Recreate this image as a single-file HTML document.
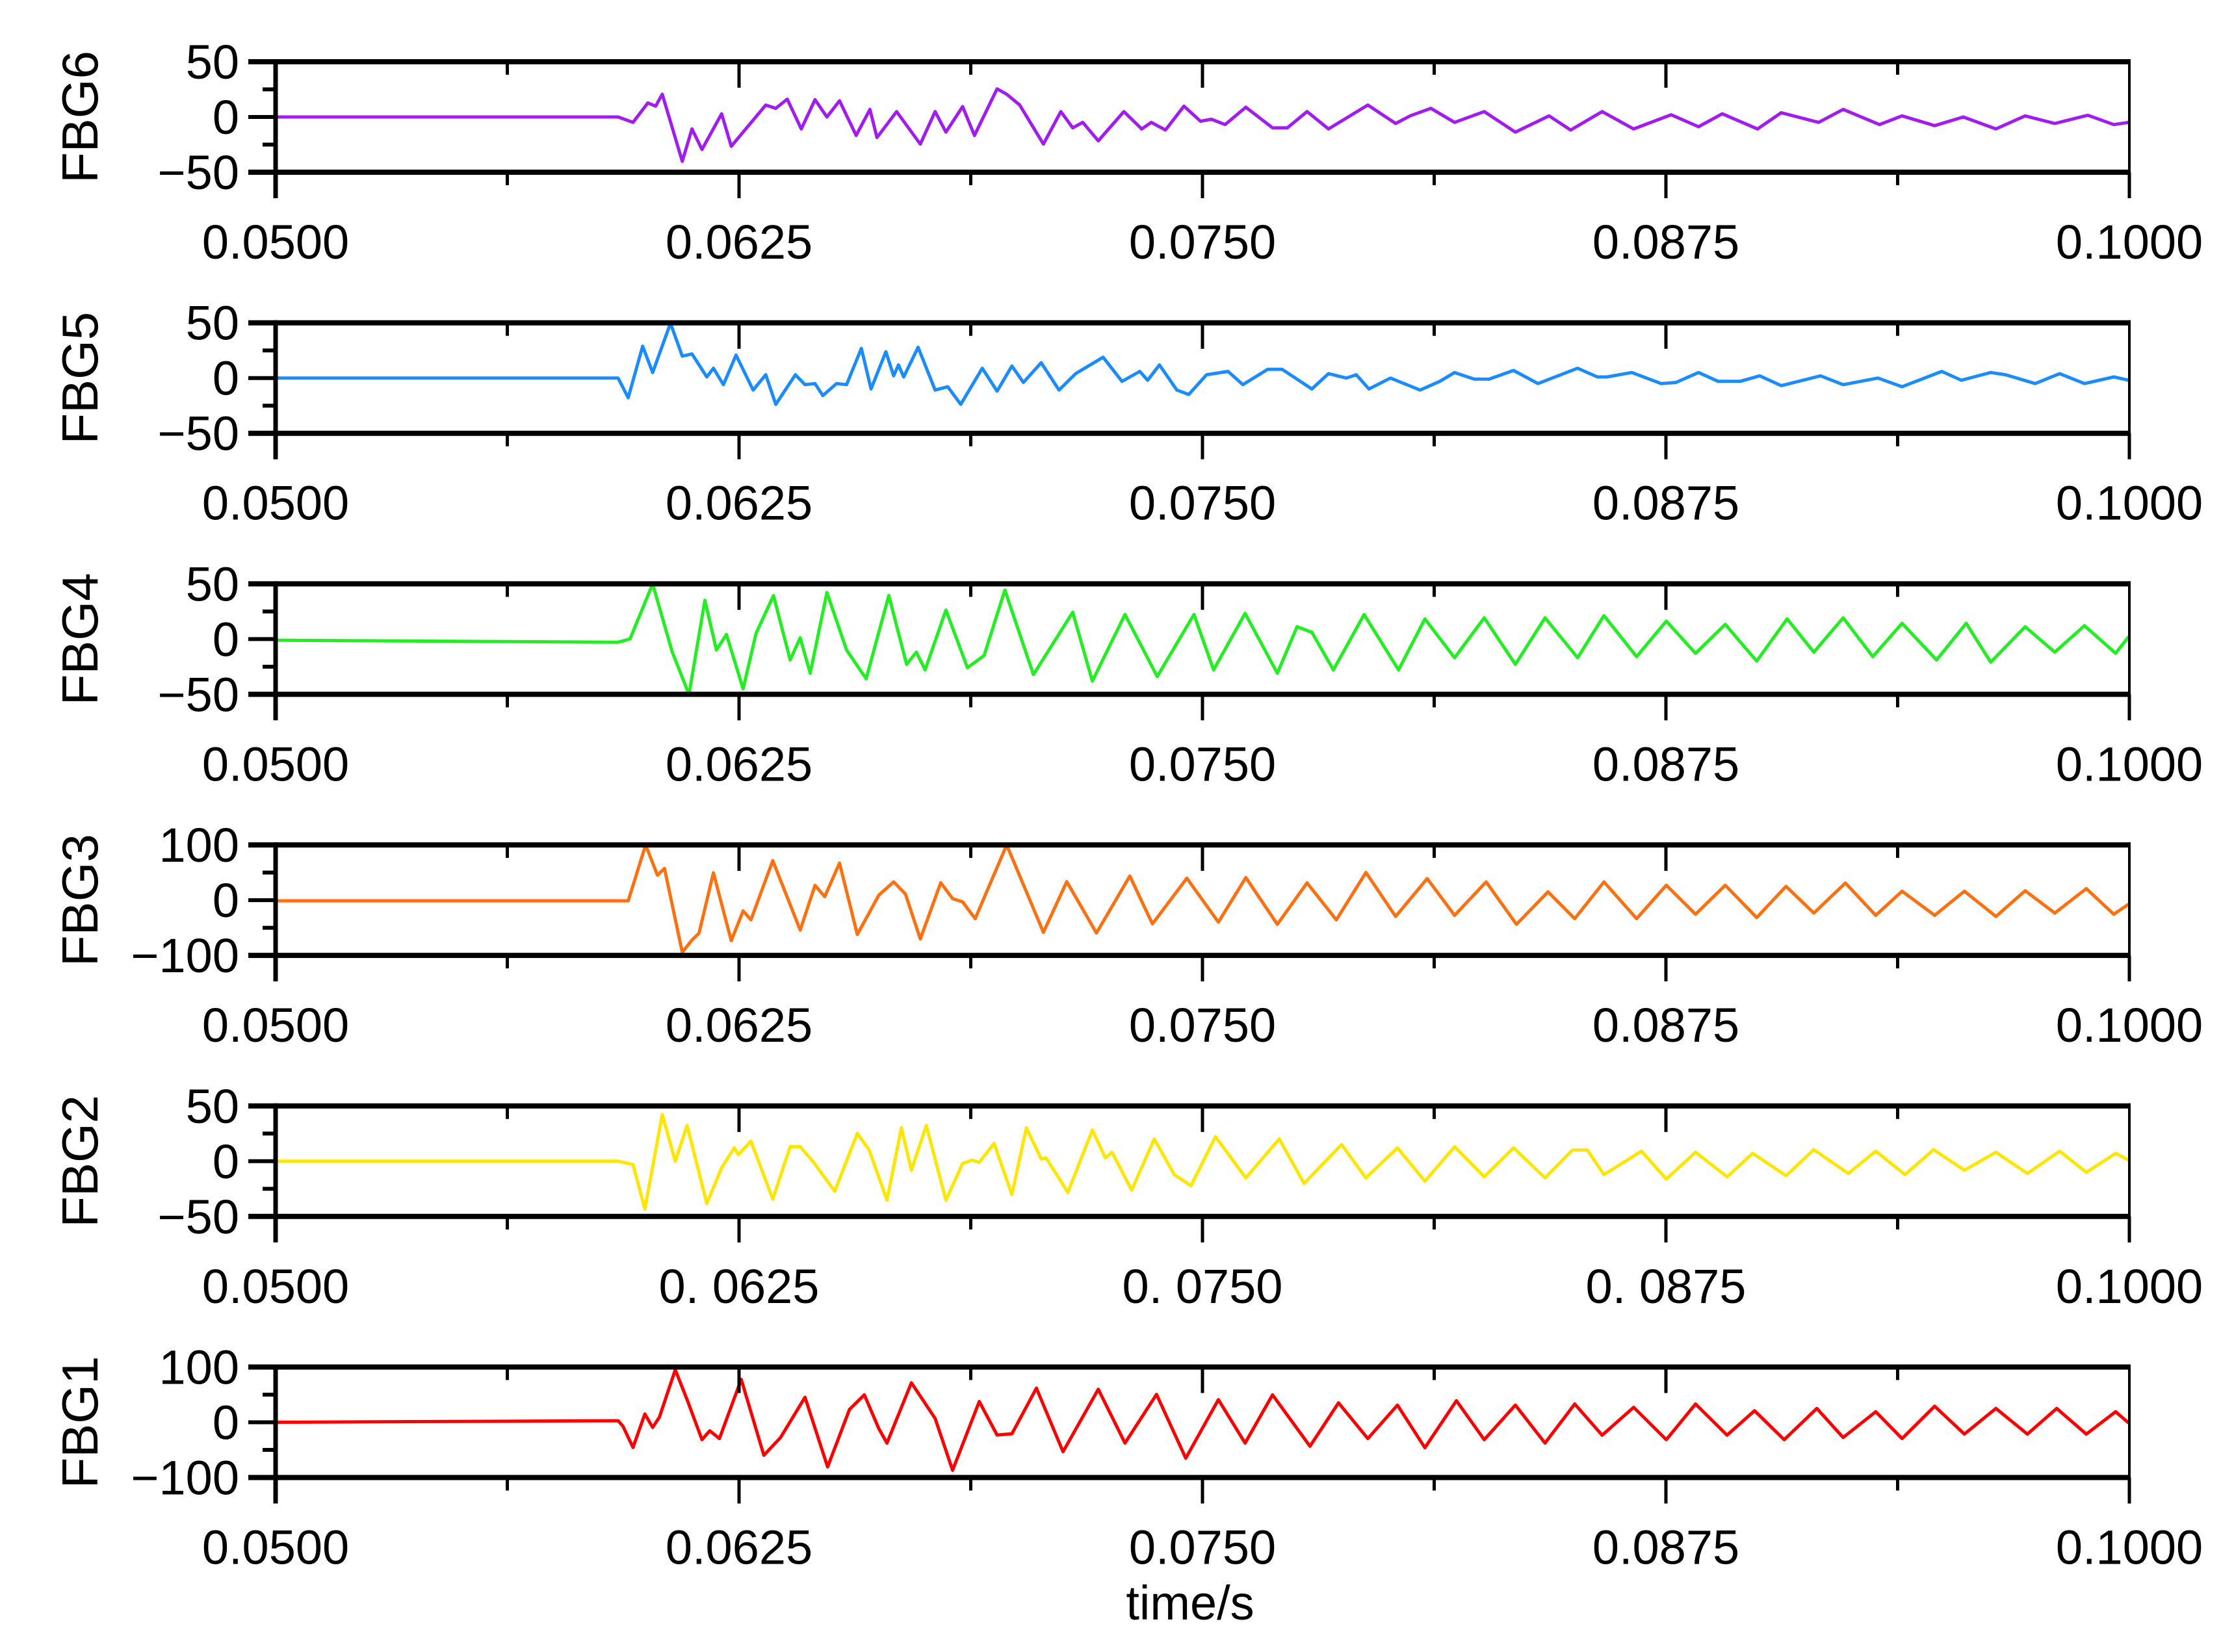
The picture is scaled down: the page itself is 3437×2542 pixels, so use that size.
<!DOCTYPE html>
<html><head><meta charset="utf-8"><title>FBG signals</title>
<style>html,body{margin:0;padding:0;background:#fff}svg{display:block}text{font-family:"Liberation Sans",Arial,sans-serif;fill:#000}</style>
</head><body>
<svg id="chart" width="3437" height="2542" viewBox="0 0 3437 2542" xmlns="http://www.w3.org/2000/svg"></svg>
<script>
const xTickLabels=["0.0500","0.0625","0.0750","0.0875","0.1000"];
const xTickLabelsP2=["0.0500","0. 0625","0. 0750","0. 0875","0.1000"];
const panelNames=["FBG6","FBG5","FBG4","FBG3","FBG2","FBG1"];
const panelRanges=[50,50,50,100,50,100];
const panelColors=["#a21cf2","#1a8cff","#22ee22","#ff7010","#ffe600","#ff0000"];
const fbg6T=[50,59.24,59.64,60.04,60.25,60.43,60.97,61.23,61.50,62.03,62.29,62.56,63.22,63.49,63.80,64.18,64.55,64.87,65.21,65.66,66.03,66.22,66.75,67.39,67.79,68.08,68.53,68.85,69.46,69.72,70.07,70.71,71.18,71.50,71.77,72.19,72.88,73.36,73.62,74.00,74.50,74.95,75.24,75.61,76.17,76.89,77.29,77.82,78.40,79.46,80.21,80.60,81.16,81.80,82.60,83.44,84.35,84.93,85.78,86.63,87.64,88.38,89.02,89.97,90.61,91.62,92.28,93.26,93.87,94.75,95.52,96.40,97.19,97.99,98.88,99.58,99.98];
const fbg6V=[0,0,-4.9,12.7,9.8,20.6,-40.2,-10.8,-29.4,2.9,-26.5,-15.7,10.8,7.8,16.1,-10.8,15.7,0,14.7,-16.7,6.9,-18.6,4.9,-24.5,4.9,-13.7,9.4,-16.7,25.5,20.6,10.8,-24.5,4.9,-9.8,-4.9,-21.6,4.9,-10.8,-4.9,-11.8,9.8,-3.9,-2.0,-6.9,8.8,-9.8,-9.8,4.9,-10.8,10.8,-5.9,1.0,7.8,-4.9,4.9,-13.7,1.0,-11.8,4.9,-10.8,2.0,-8.8,2.9,-10.8,3.9,-4.9,6.9,-6.9,1.0,-7.8,0,-10.8,1.0,-5.9,1.6,-6.9,-4.9];
const fbg5T=[50,59.24,59.51,59.90,60.17,60.65,60.97,61.23,61.63,61.81,62.08,62.42,62.88,63.22,63.49,64.02,64.28,64.55,64.76,65.13,65.40,65.80,66.06,66.46,66.67,66.80,66.94,67.33,67.79,68.13,68.48,69.06,69.46,69.86,70.17,70.65,71.13,71.58,72.32,72.83,73.31,73.52,73.84,74.31,74.63,75.11,75.69,76.09,76.76,77.15,77.95,78.40,78.88,79.15,79.49,80.07,80.87,81.40,81.80,82.33,82.73,83.39,84.05,85.12,85.65,85.91,86.58,87.37,87.77,88.38,88.91,89.50,90.03,90.61,91.67,92.28,93.22,93.87,94.94,95.47,96.26,96.66,97.46,98.12,98.79,99.58,99.98];
const fbg5V=[0,0,-17.9,28.8,5.0,49.6,19.8,21.8,1.0,8.9,-6.0,20.8,-10.9,3.0,-23.8,3.0,-6.0,-5.0,-15.9,-5.0,-6.0,26.8,-9.9,23.8,2.0,11.9,1.0,27.8,-10.9,-7.9,-23.8,8.9,-11.9,10.9,-4.0,13.9,-10.9,4.0,18.8,-3.0,6.0,-2.0,11.9,-10.9,-14.9,3.0,6.0,-6.0,7.9,7.9,-9.9,4.0,0,3.0,-9.9,0,-10.9,-3.0,5.0,-1.0,-1.0,6.9,-5.0,8.9,1.0,1.0,5.0,-5.0,-4.0,5.0,-3.0,-3.0,2.0,-6.9,2.0,-6.0,0,-7.9,6.0,-2.0,5.0,3.0,-5.0,4.0,-5.0,1.0,-2.0];
const fbg4T=[50,59.24,59.56,60.17,60.70,61.15,61.58,61.89,62.16,62.61,62.96,63.43,63.88,64.15,64.42,64.87,65.40,65.93,66.54,67.02,67.28,67.52,68.08,68.66,69.11,69.67,70.44,71.50,72.03,72.91,73.78,74.77,75.30,76.15,77.02,77.55,77.95,78.53,79.36,80.29,81.00,81.80,82.60,83.44,84.24,85.12,85.83,86.71,87.51,88.30,89.10,89.95,90.77,91.49,92.28,93.08,93.87,94.80,95.60,96.26,97.19,97.99,98.79,99.63,99.98];
const fbg4V=[-1,-2.8,0.2,50,-11.8,-50,35.1,-9.8,4.2,-45.0,5.2,39.4,-18.9,1.2,-30.9,42.2,-9.8,-35.9,39.4,-22.9,-11.8,-27.9,26.3,-25.9,-14.9,44.4,-32.1,24.3,-38.0,22.3,-33.9,22.3,-27.9,23.3,-30.9,11.2,6.2,-27.9,22.3,-27.9,18.3,-16.9,19.3,-22.9,19.3,-16.9,21.3,-15.9,16.3,-12.9,13.3,-19.9,18.3,-11.8,19.3,-15.9,14.3,-18.9,14.3,-20.9,11.2,-11.8,12.2,-12.8,2.2];
const fbg3T=[50,59.24,59.51,59.98,60.30,60.49,60.97,61.23,61.42,61.81,62.29,62.61,62.82,63.41,64.15,64.55,64.81,65.21,65.69,66.27,66.67,66.99,67.39,67.94,68.26,68.53,68.87,69.72,70.71,71.34,72.14,73.04,73.65,74.58,75.43,76.17,77.02,77.82,78.61,79.41,80.21,81.06,81.80,82.65,83.47,84.32,85.04,85.83,86.71,87.51,88.30,89.10,89.95,90.74,91.49,92.34,93.16,93.87,94.75,95.55,96.40,97.19,97.99,98.84,99.58,99.98];
const fbg3V=[-1.2,-1.2,-1.2,100,45.3,57.4,-94.3,-72.1,-60.0,49.5,-73.3,-19.4,-35.6,71.5,-54.1,26.7,6.5,67.1,-62.2,8.9,33.1,10.9,-70.3,31.5,2.8,-3.2,-33.5,100,-58.2,33.5,-59.4,43.6,-43.0,39.8,-39.8,41.0,-43.8,31.3,-35.6,50.1,-29.5,39.0,-27.5,33.1,-43.8,15.0,-33.5,33.1,-33.5,27.1,-25.5,27.1,-31.5,25.1,-23.4,31.1,-27.5,16.2,-27.5,16.2,-29.5,17.0,-23.4,21.0,-25.5,-7.3];
const fbg2T=[50,59.24,59.64,59.96,60.43,60.78,61.10,61.63,62.03,62.37,62.48,62.82,63.41,63.88,64.15,64.49,65.08,65.69,66.01,66.49,66.88,67.15,67.55,68.08,68.53,68.79,68.98,69.38,69.86,70.25,70.65,70.78,71.37,72.03,72.38,72.56,73.09,73.70,74.24,74.69,75.35,76.17,77.07,77.74,78.75,79.41,80.26,81.00,81.80,82.60,83.39,84.24,84.98,85.38,85.83,86.84,87.51,88.30,89.15,89.84,90.74,91.49,92.42,93.16,93.95,94.72,95.55,96.40,97.25,98.12,98.84,99.63,99.98];
const fbg2V=[0,0,-3.0,-43.3,42.3,0,32.3,-38.3,-6.0,12.1,6.0,18.1,-34.3,13.1,13.1,0,-27.2,25.2,10.1,-35.3,30.2,-8.1,32.3,-35.3,-2.0,1.0,-1.0,16.1,-30.2,30.2,2.0,3.0,-28.2,28.2,3.0,8.1,-26.2,20.2,-12.1,-22.2,22.2,-15.1,20.2,-20.2,15.1,-15.1,12.1,-18.1,13.1,-14.1,12.1,-15.1,10.1,10.1,-12.1,9.1,-16.1,8.1,-14.1,7.1,-13.1,10.5,-11.1,9.1,-12.1,10.5,-8.1,8.1,-11.1,9.1,-10.1,7.1,1.0];
const fbg1T=[50,59.24,59.37,59.64,59.96,60.17,60.35,60.78,61.10,61.50,61.71,61.97,62.56,63.17,63.62,64.28,64.89,65.48,65.88,66.27,66.49,67.15,67.79,68.26,68.98,69.46,69.86,70.52,71.24,72.19,72.91,73.76,74.55,75.43,76.15,76.89,77.90,78.67,79.46,80.26,81.00,81.85,82.60,83.44,84.24,85.04,85.78,86.63,87.51,88.30,89.15,89.89,90.69,91.57,92.28,93.16,93.87,94.75,95.55,96.40,97.25,98.04,98.84,99.63,99.98];
const fbg1V=[0,2.8,-7.3,-45.7,15.0,-9.3,8.9,95.0,41.0,-31.5,-15.4,-29.5,77.6,-59.8,-27.5,45.3,-80.8,23.4,49.7,-11.3,-37.6,71.5,6.9,-86.9,37.6,-23.0,-21.0,61.8,-53.3,59.8,-37.6,50.5,-65.1,41.0,-37.6,49.7,-43.4,35.2,-29.5,31.1,-46.1,39.0,-31.5,31.1,-37.6,33.1,-23.4,27.1,-31.5,33.1,-23.4,21.0,-31.5,25.1,-27.5,19.0,-29.5,29.1,-21.4,25.1,-21.4,25.1,-21.4,19.0,-1.2];
const seriesT=[fbg6T,fbg5T,fbg4T,fbg3T,fbg2T,fbg1T];
const seriesV=[fbg6V,fbg5V,fbg4V,fbg3V,fbg2V,fbg1V];

const NS="http://www.w3.org/2000/svg";
const svg=document.getElementById('chart');
const X0=424,X1=3276,TOP0=95,PITCH=401.7,PH=170;
const tMin=50,tMax=100;
function xScale(t){return X0+(t-tMin)/(tMax-tMin)*(X1-X0);}
function mk(tag,attrs,parent){const e=document.createElementNS(NS,tag);for(const k in attrs)e.setAttribute(k,attrs[k]);(parent||svg).appendChild(e);return e;}

for(let p=0;p<6;p++){
  const top=TOP0+p*PITCH,bot=top+PH,R=panelRanges[p];
  const yScale=v=>top+(R-v)/(2*R)*PH;
  const g=mk('g',{});
  
  
  const pts=seriesT[p].map((t,i)=>xScale(t).toFixed(1)+','+yScale(Math.max(-R,Math.min(R,seriesV[p][i]))).toFixed(1)).join(' ');
  const line=mk('polyline',{points:pts,fill:'none',stroke:panelColors[p],'stroke-width':5,'stroke-linejoin':'round'},g);
  
  
  const fr=mk('g',{stroke:'#000'},g);
  
  
  mk('line',{x1:X0-42,y1:top,x2:X1+2,y2:top,'stroke-width':8},fr);
  mk('line',{x1:X0-42,y1:bot,x2:X1+2,y2:bot,'stroke-width':8},fr);
  mk('line',{x1:X0,y1:top-4,x2:X0,y2:bot+40,'stroke-width':7},fr);
  mk('line',{x1:X1,y1:top-4,x2:X1,y2:bot+4,'stroke-width':4},fr);
  mk('line',{x1:X0-42,y1:(top+bot)/2,x2:X0,y2:(top+bot)/2,'stroke-width':6},fr);
  mk('line',{x1:X0-20,y1:top+PH/4,x2:X0,y2:top+PH/4,'stroke-width':6},fr);
  mk('line',{x1:X0-20,y1:top+3*PH/4,x2:X0,y2:top+3*PH/4,'stroke-width':6},fr);
  for(let k=0;k<=8;k++){
    const t=tMin+k*6.25,x=xScale(t),major=k%2===0;
    if(k>0&&k<8){
      mk('line',{x1:x,y1:top,x2:x,y2:top+(major?40:20),'stroke-width':5},fr);
    }
    if(k>0) mk('line',{x1:x,y1:bot,x2:x,y2:bot+(major?40:20),'stroke-width':5},fr);
  }
  const labs=p===4?xTickLabelsP2:xTickLabels;
  labs.forEach((s,k)=>{
    const tx=mk('text',{x:xScale(tMin+k*12.5),y:bot+133,'font-size':74,'text-anchor':'middle'},g);
    tx.textContent=s;
    
    
  });
  [R,0,-R].forEach((v,k)=>{
    const tx=mk('text',{x:368,y:yScale(v)+26,'font-size':74,'text-anchor':'end'},g);
    tx.textContent=v<0?'\u2212'+(-v):String(v);
    
    
  });
  const yt=mk('text',{x:0,y:0,'font-size':78,'text-anchor':'middle',transform:'translate(150,'+((top+bot)/2)+') rotate(-90)'},g);
  yt.textContent=panelNames[p];
  
  
}
const xt=mk('text',{x:1831,y:2492,'font-size':74,'text-anchor':'middle'});
xt.textContent='time/s';


</script>
</body></html>
